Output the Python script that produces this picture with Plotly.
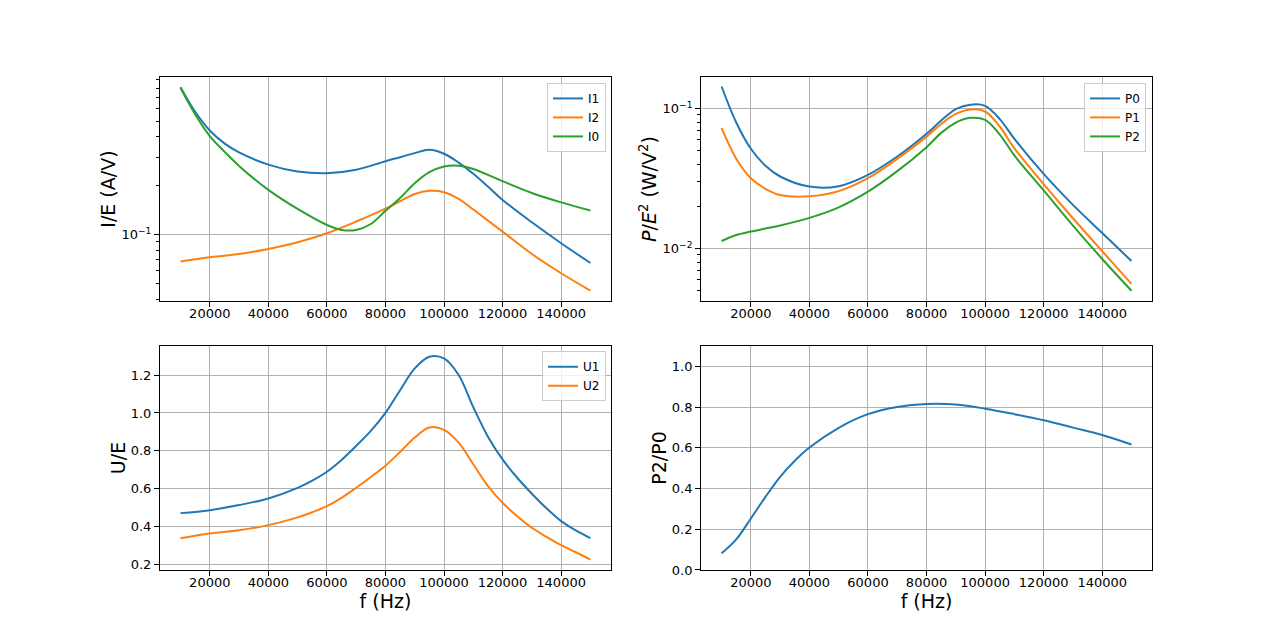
import plotly.graph_objects as go
from plotly.subplots import make_subplots

# ---------------- data ----------------
f_I = [10000, 15000, 20000, 25000, 30000, 40000, 50000, 60000, 70000, 80000, 85000,
       90000, 95000, 100000, 105000, 110000, 115000, 120000, 130000, 140000, 150000]
I1 = [0.811, 0.572, 0.4385, 0.365, 0.321, 0.270, 0.245, 0.239, 0.251, 0.2835, 0.300,
      0.318, 0.333, 0.315, 0.278, 0.237, 0.1978, 0.1636, 0.119, 0.0884, 0.0668]
I2 = [0.0681, 0.0703, 0.0724, 0.0741, 0.0759, 0.0815, 0.0896, 0.1019, 0.1203, 0.1445, 0.1605,
      0.178, 0.186, 0.1824, 0.166, 0.1427, 0.122, 0.1043, 0.0759, 0.0577, 0.0451]
f_I0 = [10000, 15000, 20000, 25000, 30000, 40000, 50000, 60000, 65000, 70000, 75000, 80000,
        85000, 90000, 95000, 100000, 105000, 110000, 120000, 130000, 140000, 150000]
I0 = [0.804, 0.552, 0.405, 0.325, 0.265, 0.1886, 0.1439, 0.1146, 0.1068, 0.1068, 0.1162, 0.140,
      0.168, 0.2074, 0.2425, 0.263, 0.266, 0.254, 0.2134, 0.1806, 0.158, 0.1406]

f_P = [10000, 15000, 20000, 25000, 30000, 40000, 50000, 60000, 70000, 80000,
       85000, 90000, 95000, 100000, 105000, 110000, 120000, 130000, 140000, 150000]
P0 = [0.1436, 0.0795, 0.0516, 0.039, 0.0327, 0.0277, 0.0279, 0.0336, 0.0454, 0.066,
      0.082, 0.0989, 0.1065, 0.1044, 0.084, 0.0607, 0.0341, 0.0205, 0.0129, 0.00815]
P1 = [0.0727, 0.0438, 0.0318, 0.0267, 0.0241, 0.0236, 0.0257, 0.0318, 0.0437, 0.063,
      0.0776, 0.0915, 0.0985, 0.0952, 0.0744, 0.052, 0.0289, 0.01646, 0.00957, 0.00559]
P2 = [0.01133, 0.0125, 0.01322, 0.0139, 0.0146, 0.01656, 0.0197, 0.0255, 0.0357, 0.053,
      0.067, 0.0794, 0.0858, 0.083, 0.0652, 0.0462, 0.026, 0.0146, 0.00843, 0.005]

f_U = [10000, 20000, 30000, 40000, 50000, 55000, 60000, 65000, 70000, 75000, 80000, 85000,
       90000, 95000, 100000, 105000, 110000, 115000, 120000, 125000, 130000, 135000,
       140000, 145000, 150000]
U1 = [0.4714, 0.487, 0.514, 0.549, 0.605, 0.643, 0.690, 0.752, 0.826, 0.905, 1.0, 1.12,
      1.235, 1.297, 1.288, 1.2, 1.03, 0.875, 0.755, 0.658, 0.574, 0.497,
      0.429, 0.38, 0.339]
U2 = [0.339, 0.364, 0.381, 0.408, 0.449, 0.476, 0.508, 0.552, 0.605, 0.662, 0.722, 0.794,
      0.87, 0.923, 0.911, 0.843, 0.729, 0.614, 0.526, 0.455, 0.394, 0.346,
      0.302, 0.265, 0.226]

f_R = [10000, 15000, 20000, 25000, 30000, 35000, 40000, 50000, 60000, 70000, 80000,
       90000, 100000, 110000, 120000, 130000, 140000, 150000]
R = [0.0817, 0.150, 0.253, 0.359, 0.457, 0.536, 0.601, 0.698, 0.765, 0.80, 0.815,
     0.812, 0.792, 0.765, 0.735, 0.699, 0.663, 0.616]

x_ticks = [20000, 40000, 60000, 80000, 100000, 120000, 140000]

C0, C1, C2 = "#1f77b4", "#ff7f0e", "#2ca02c"
FONT = "DejaVu Sans"

# ---------------- figure ----------------
fig = make_subplots(rows=2, cols=2, horizontal_spacing=0.0909, vertical_spacing=0.0909)

def line(x, y, name, color, row, col, legend=None, show=True):
    fig.add_trace(go.Scatter(x=x, y=y, name=name, mode="lines",
                             line=dict(color=color, width=2, shape="spline", smoothing=1.0),
                             legend=legend, showlegend=show, hoverinfo="skip"),
                  row=row, col=col)

line(f_I, I1, "I1", C0, 1, 1, "legend")
line(f_I, I2, "I2", C1, 1, 1, "legend")
line(f_I0, I0, "I0", C2, 1, 1, "legend")
line(f_P, P0, "P0", C0, 1, 2, "legend2")
line(f_P, P1, "P1", C1, 1, 2, "legend2")
line(f_P, P2, "P2", C2, 1, 2, "legend2")
line(f_U, U1, "U1", C0, 2, 1, "legend3")
line(f_U, U2, "U2", C1, 2, 1, "legend3")
line(f_R, R, "P2/P0", C0, 2, 2, show=False)

axis_common = dict(showline=True, mirror=True, linecolor="black", linewidth=1,
                   ticks="outside", ticklen=5, tickwidth=1, tickcolor="black",
                   showgrid=True, gridcolor="#b0b0b0", gridwidth=1, zeroline=False,
                   tickfont=dict(family=FONT, size=13, color="black"))
title_font = dict(family=FONT, size=19, color="black")

for r in (1, 2):
    for c in (1, 2):
        fig.update_xaxes(range=[3000, 157000], tickmode="array", tickvals=x_ticks,
                         ticktext=[str(v) for v in x_ticks], ticklabelstandoff=-5,
                         row=r, col=c, **axis_common)

fig.update_xaxes(title=dict(text="f (Hz)", font=title_font, standoff=0), row=2, col=1)
fig.update_xaxes(title=dict(text="f (Hz)", font=title_font, standoff=0), row=2, col=2)

minor_tl = [0.04, 0.05, 0.06, 0.07, 0.08, 0.09, 0.2, 0.3, 0.4, 0.5, 0.6, 0.7, 0.8, 0.9]
fig.update_yaxes(type="log", range=[-1.4105, -0.028], tickmode="array", tickvals=[0.1],
                 ticktext=["10<sup>\u22121</sup>"],
                 minor=dict(tickmode="array", tickvals=minor_tl, ticks="outside", ticklen=3,
                            tickcolor="black", tickwidth=1, showgrid=False),
                 title=dict(text="I/E (A/V)", font=title_font, standoff=0),
                 row=1, col=1, **axis_common)

minor_tr = [0.005, 0.006, 0.007, 0.008, 0.009, 0.02, 0.03, 0.04, 0.05, 0.06, 0.07, 0.08, 0.09]
fig.update_yaxes(type="log", range=[-2.375, -0.775], tickmode="array", tickvals=[0.01, 0.1],
                 ticktext=["10<sup>\u22122</sup>", "10<sup>\u22121</sup>"],
                 minor=dict(tickmode="array", tickvals=minor_tr, ticks="outside", ticklen=3,
                            tickcolor="black", tickwidth=1, showgrid=False),
                 title=dict(text="<i>P</i>/<i>E</i><sup>2</sup> (W/V<sup>2</sup>)",
                            font=title_font, standoff=0),
                 row=1, col=2, **axis_common)

fig.update_yaxes(range=[0.1713, 1.3538], tickmode="array",
                 tickvals=[0.2, 0.4, 0.6, 0.8, 1.0, 1.2],
                 ticktext=["0.2", "0.4", "0.6", "0.8", "1.0", "1.2"],
                 title=dict(text="U/E", font=title_font, standoff=0),
                 row=2, col=1, **axis_common)

fig.update_yaxes(range=[0, 1.1], tickmode="array",
                 tickvals=[0.0, 0.2, 0.4, 0.6, 0.8, 1.0],
                 ticktext=["0.0", "0.2", "0.4", "0.6", "0.8", "1.0"],
                 title=dict(text="P2/P0", font=title_font, standoff=0),
                 row=2, col=2, **axis_common)

leg_common = dict(xanchor="right", yanchor="top", bgcolor="rgba(255,255,255,0.8)",
                  bordercolor="#cccccc", borderwidth=1,
                  font=dict(family=FONT, size=12, color="black"),
                  tracegroupgap=0, itemwidth=30)

fig.update_layout(
    width=1280, height=640,
    margin=dict(l=160, r=128, t=77, b=70, autoexpand=False),
    paper_bgcolor="white", plot_bgcolor="white",
    font=dict(family=FONT, color="black"),
    legend=dict(x=0.4496, y=0.988, **leg_common),
    legend2=dict(x=0.994, y=0.988, **leg_common),
    legend3=dict(x=0.4496, y=0.4436, **leg_common),
)

fig.write_html("out.html", config={"displayModeBar": False},
               post_script="document.body.style.margin='0';")
